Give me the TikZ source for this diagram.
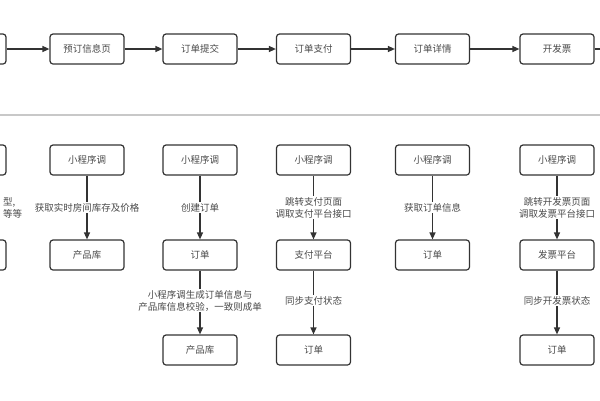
\documentclass[tikz,border=0pt]{standalone}
\usepackage{fontspec}
\setmainfont{Noto Sans CJK SC}
\usetikzlibrary{arrows.meta}
\definecolor{edge}{HTML}{333333}
\definecolor{txt}{HTML}{4A4A4A}
\definecolor{sep}{HTML}{C8C8C8}
\tikzset{
  box/.style={draw=edge, line width=1.2pt, rounded corners=3pt, minimum width=74pt, minimum height=30pt, inner sep=0pt, text=txt, font=\fontsize{9.5}{11}\selectfont, fill=white},
  flow/.style={draw=edge, line width=1.3pt, -{Triangle[length=7pt,width=6pt]}},
  lbl/.style={fill=white, text=txt, font=\fontsize{9.5}{12}\selectfont, align=center, inner sep=1pt}
}
\begin{document}
\begin{tikzpicture}[x=1pt,y=-1pt]
\useasboundingbox (0,0) rectangle (600,400);
\clip (0,0) rectangle (600,400);
\fill[white] (0,0) rectangle (600,400);
% top row
\node[box] (t1) at (-31,49) {};
\node[box] (t2) at (87,49) {预订信息页};
\node[box] (t3) at (200,49) {订单提交};
\node[box] (t4) at (313.5,49) {订单支付};
\node[box] (t5) at (432.5,49) {订单详情};
\node[box] (t6) at (557,49) {开发票};
\coordinate (tend) at (610,49);
\draw[flow] (t1) -- (t2);
\draw[flow] (t2) -- (t3);
\draw[flow] (t3) -- (t4);
\draw[flow] (t4) -- (t5);
\draw[flow] (t5) -- (t6);
\draw[flow] (t6) -- (tend);
% separator
\coordinate (s1) at (0,115);
\coordinate (s2) at (600,115);
\draw[sep, line width=1.6pt] (s1) -- (s2);
% column 1 (partial, cut at the left edge)
\node[box] (a1) at (-31,160) {};
\node[box] (a2) at (-31,255) {};
\draw[flow] (a1) -- (a2);
\node[lbl, anchor=west, align=left, fill=none] (al) at (2,208) {型,\\等等};
% column 2
\node[box] (b1) at (87,160) {小程序调};
\node[box] (b2) at (87,255) {产品库};
\draw[flow] (b1) -- node[lbl] {获取实时房间库存及价格} (b2);
% column 3
\node[box] (c1) at (200,160) {小程序调};
\node[box] (c2) at (200,255) {订单};
\node[box] (c3) at (200,350) {产品库};
\draw[flow] (c1) -- node[lbl] {创建订单} (c2);
\draw[flow] (c2) -- node[lbl, pos=0.47] {小程序调生成订单信息与\\产品库信息校验，一致则成单} (c3);
% column 4
\node[box] (d1) at (313.5,160) {小程序调};
\node[box] (d2) at (313.5,255) {支付平台};
\node[box] (d3) at (313.5,350) {订单};
\draw[flow] (d1) -- node[lbl] {跳转支付页面\\调取支付平台接口} (d2);
\draw[flow] (d2) -- node[lbl, pos=0.47] {同步支付状态} (d3);
% column 5
\node[box] (e1) at (432.5,160) {小程序调};
\node[box] (e2) at (432.5,255) {订单};
\draw[flow] (e1) -- node[lbl] {获取订单信息} (e2);
% column 6
\node[box] (f1) at (557,160) {小程序调};
\node[box] (f2) at (557,255) {发票平台};
\node[box] (f3) at (557,350) {订单};
\draw[flow] (f1) -- node[lbl] {跳转开发票页面\\调取发票平台接口} (f2);
\draw[flow] (f2) -- node[lbl, pos=0.47] {同步开发票状态} (f3);
\end{tikzpicture}
\end{document}
